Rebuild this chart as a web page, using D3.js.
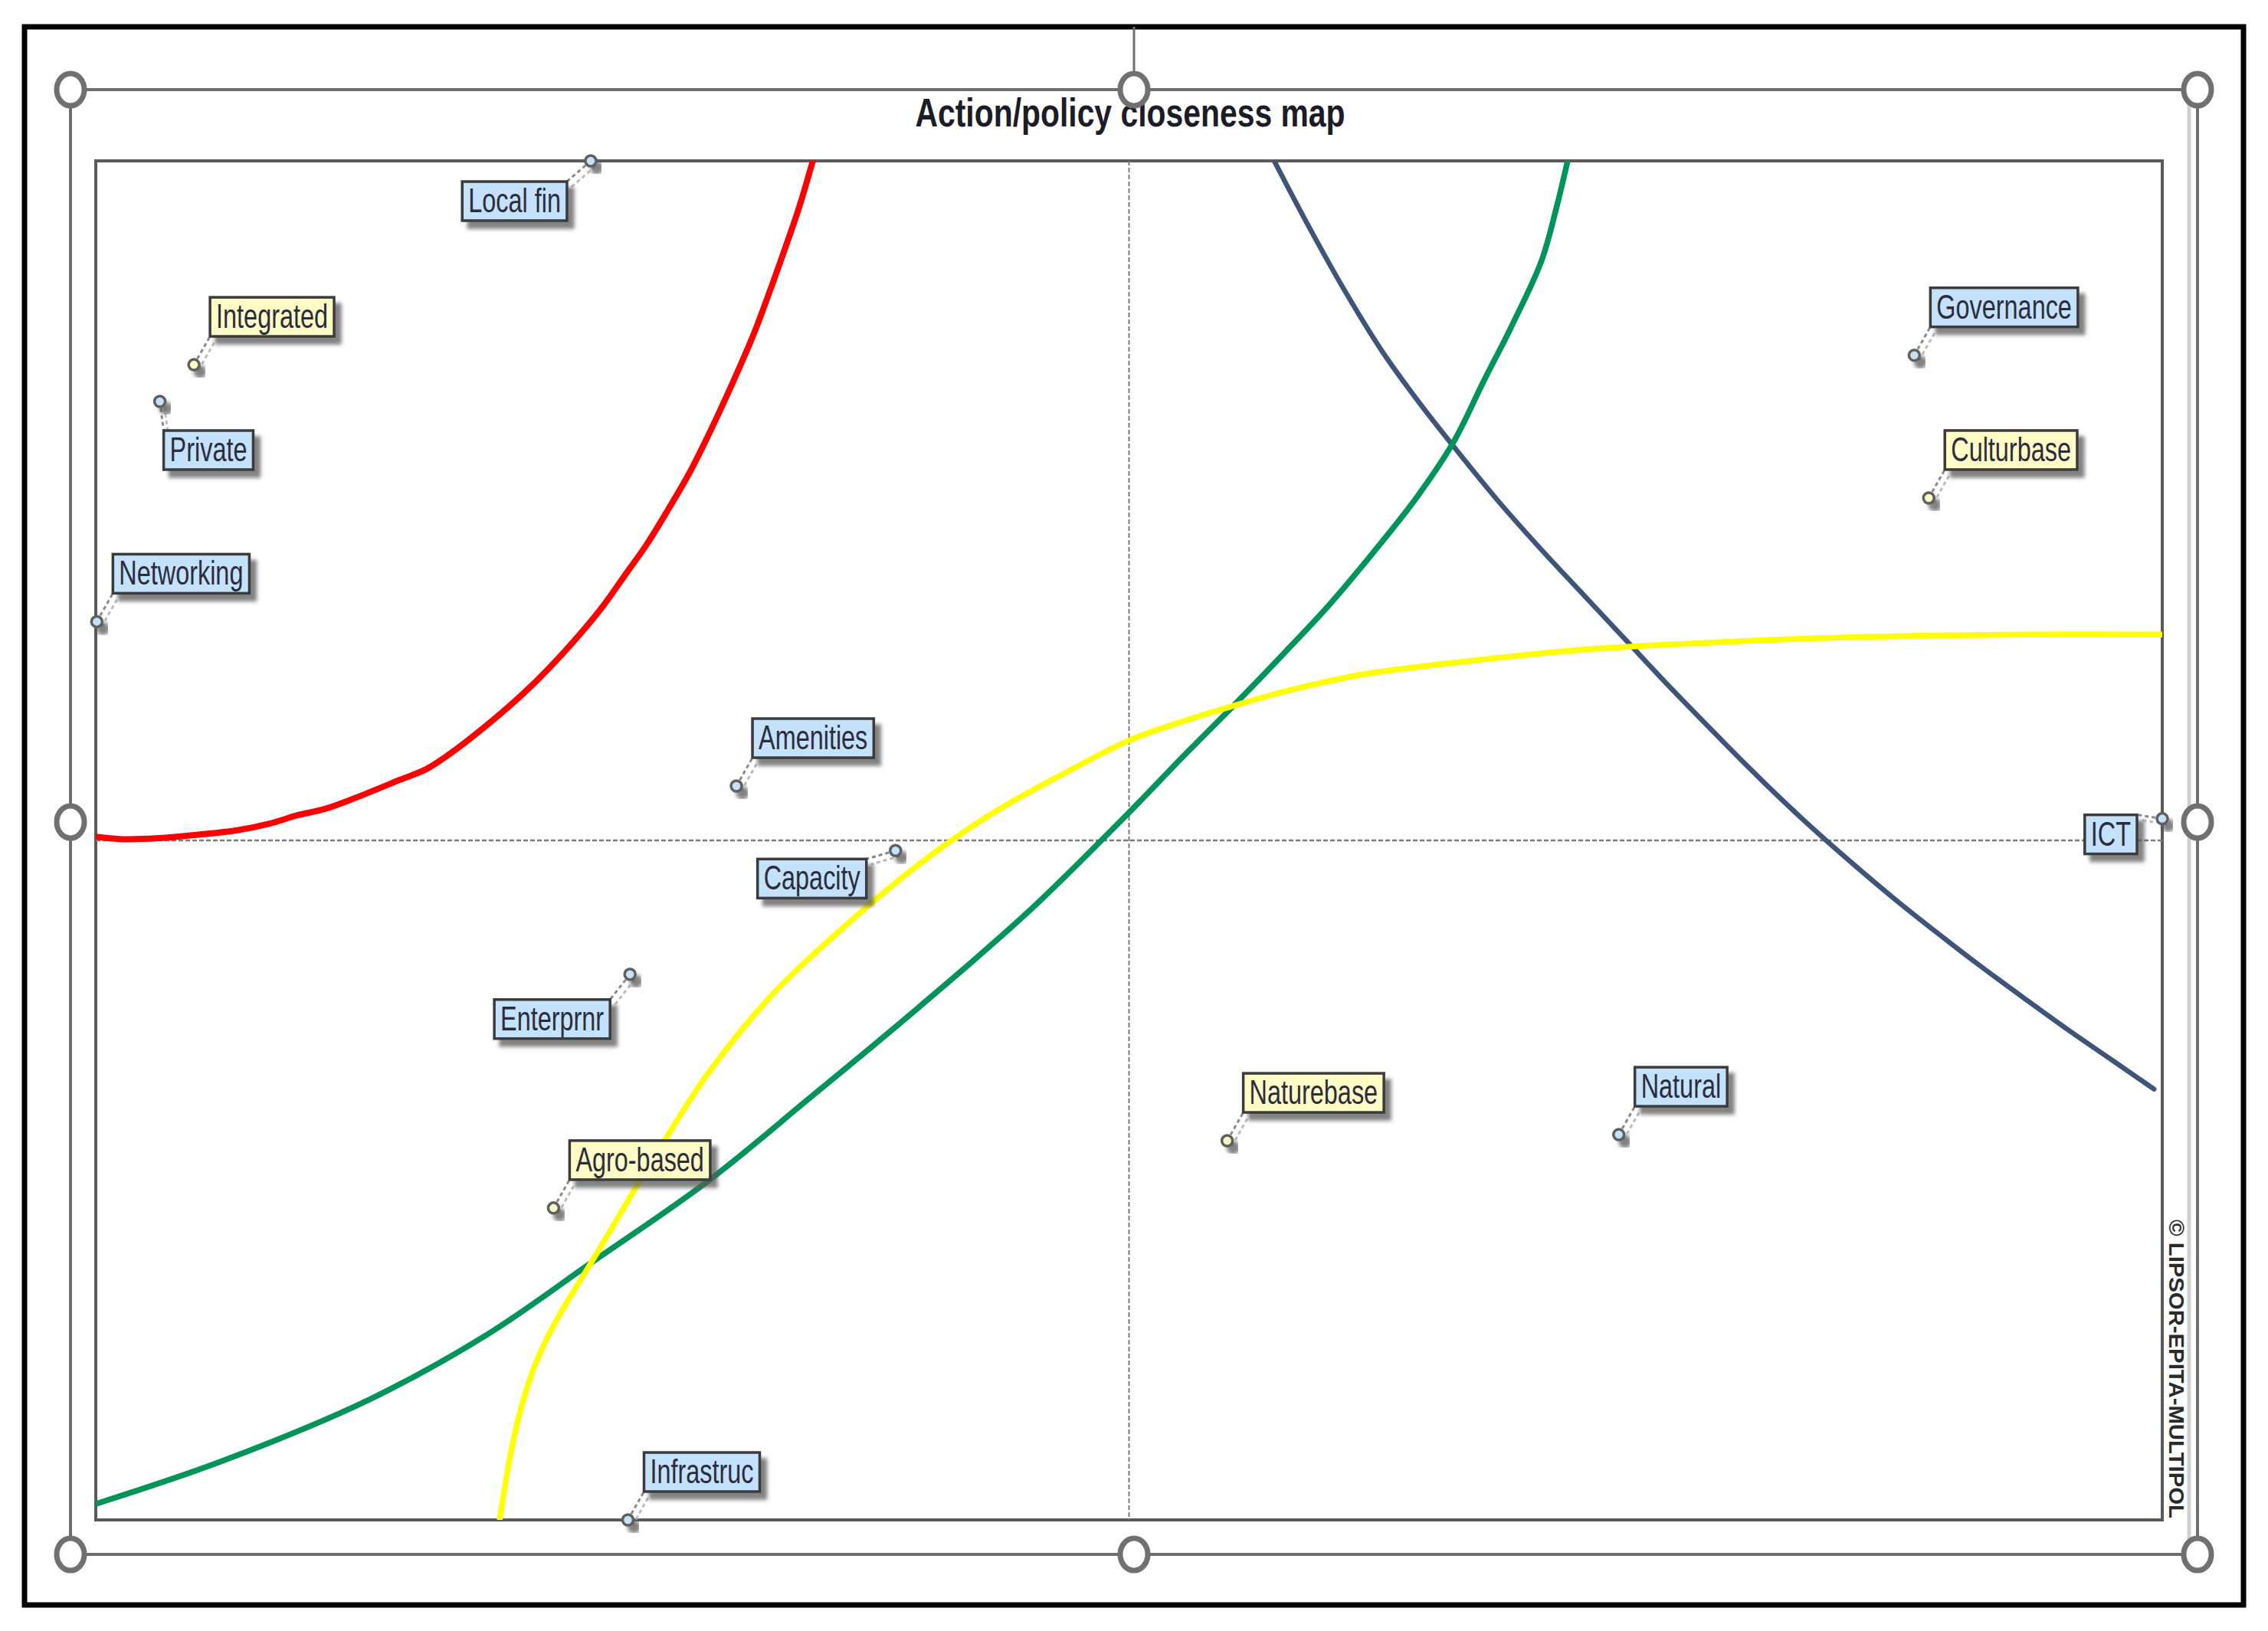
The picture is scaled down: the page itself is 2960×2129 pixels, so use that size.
<!DOCTYPE html>
<html>
<head>
<meta charset="utf-8">
<script src="https://cdnjs.cloudflare.com/ajax/libs/d3/7.8.5/d3.min.js"></script>
<style>
  body { margin: 0; background: #fff; }
  svg { display: block; }
</style>
</head>
<body>
<div id="chart"></div>
<script>
// actions (points) on the closeness map
var actions = ["Local fin", "Integrated", "Private", "Networking", "Amenities", "Capacity", "Enterprnr",
               "Agro-based", "Infrastruc", "Naturebase", "Natural", "Governance", "Culturbase", "ICT"];
var actionX = [-0.521, -0.905, -0.938, -0.999, -0.380, -0.226, -0.483, -0.557, -0.485, 0.095, 0.474, 0.760, 0.774, 1.0];
var actionY = [1.0, 0.700, 0.646, 0.322, 0.080, -0.015, -0.197, -0.541, -1.0, -0.442, -0.433, 0.714, 0.504, 0.032];
var actionKind = ["a", "b", "a", "a", "a", "a", "a", "b", "a", "b", "a", "a", "b", "a"];

// policy curves
var redX = [-0.998, -0.977, -0.941, -0.904, -0.863, -0.831, -0.805, -0.779, -0.748, -0.706, -0.680, -0.654, -0.618, -0.587,
            -0.561, -0.530, -0.509, -0.488, -0.467, -0.446, -0.425, -0.405, -0.384, -0.363, -0.347, -0.332, -0.319, -0.306];
var redY = [0.005, 0.002, 0.003, 0.008, 0.015, 0.025, 0.037, 0.046, 0.063, 0.089, 0.105, 0.131, 0.174, 0.215,
            0.254, 0.306, 0.345, 0.390, 0.435, 0.487, 0.542, 0.603, 0.672, 0.746, 0.811, 0.875, 0.933, 1.0];

var blueX = [0.1405, 0.172, 0.208, 0.244, 0.279, 0.314, 0.357, 0.399, 0.442, 0.485, 0.527, 0.570, 0.612, 0.655,
             0.698, 0.740, 0.783, 0.825, 0.868, 0.910, 0.953, 0.992];
var blueY = [1.0, 0.909, 0.811, 0.722, 0.648, 0.580, 0.500, 0.428, 0.358, 0.288, 0.220, 0.153, 0.089, 0.027,
             -0.031, -0.085, -0.137, -0.186, -0.234, -0.280, -0.325, -0.366];

var greenX = [-0.999, -0.877, -0.734, -0.621, -0.519, -0.408, -0.309, -0.203, -0.096, 0.0, 0.052, 0.101, 0.151, 0.194,
              0.236, 0.279, 0.314, 0.343, 0.371, 0.399, 0.413, 0.4245];
var greenY = [-0.976, -0.913, -0.822, -0.727, -0.620, -0.502, -0.379, -0.245, -0.103, 0.041, 0.123, 0.198, 0.277, 0.347,
              0.423, 0.506, 0.586, 0.675, 0.759, 0.852, 0.927, 1.0];

var yellowX = [-0.609, -0.600, -0.590, -0.578, -0.564, -0.548, -0.530, -0.510, -0.475, -0.450, -0.407, -0.344, -0.274,
               -0.203, -0.132, -0.061, 0.0, 0.052, 0.101, 0.158, 0.229, 0.300, 0.371, 0.442, 0.548, 0.655, 0.761, 0.868, 1.0];
var yellowY = [-1.0, -0.915, -0.845, -0.785, -0.735, -0.690, -0.645, -0.595, -0.505, -0.443, -0.342, -0.225, -0.125,
               -0.035, 0.04, 0.10, 0.147, 0.175, 0.198, 0.222, 0.245, 0.259, 0.271, 0.281, 0.290, 0.297, 0.301, 0.303, 0.303];

var title = "Action/policy closeness map";
var credit = "\u00a9 LIPSOR-EPITA-MULTIPOL";

// ---- layout ----
var W = 2960, H = 2129;
var plot = {left: 125, top: 210, right: 2822, bottom: 1984};
var font = "'Liberation Sans', Arial, sans-serif";
var squeeze = 0.72;   // narrow look of the original labels

// where each label box sits relative to its point: corner + offset
var labelPlace = {
  "Private":   {corner: "tl", dx: 5,   dy: 38},
  "Local fin": {corner: "tr", dx: -31, dy: 27},
  "Capacity":  {corner: "tr", dx: -38, dy: 11},
  "Enterprnr": {corner: "tr", dx: -26, dy: 33},
  "ICT":       {corner: "tr", dx: -33, dy: -5}
};
var defaultPlace = {corner: "bl", dx: 21, dy: -37};

var kindFill = {a: "#c4e2fb", b: "#fffcc6"};

var svg = d3.select("#chart").append("svg")
    .attr("width", W).attr("height", H);

var defs = svg.append("defs");
defs.append("filter").attr("id", "shadow")
    .attr("x", "-30%").attr("y", "-30%").attr("width", "180%").attr("height", "200%")
  .append("feDropShadow")
    .attr("dx", 8).attr("dy", 9).attr("stdDeviation", 2.5)
    .attr("flood-color", "#5a5a5a").attr("flood-opacity", 0.75);
defs.append("clipPath").attr("id", "plotClip")
  .append("rect")
    .attr("x", plot.left).attr("y", plot.top)
    .attr("width", plot.right - plot.left).attr("height", plot.bottom - plot.top);

var x = d3.scaleLinear().domain([-1, 1]).range([plot.left, plot.right]);
var y = d3.scaleLinear().domain([-1, 1]).range([plot.bottom, plot.top]);

// outer black border
svg.append("rect")
    .attr("x", 32).attr("y", 35).attr("width", 2896).attr("height", 2060)
    .attr("fill", "none").attr("stroke", "#000").attr("stroke-width", 7);

// selection frame
svg.append("rect")
    .attr("x", 92).attr("y", 117).attr("width", 2776).attr("height", 1912)
    .attr("fill", "none").attr("stroke", "#6e6e6e").attr("stroke-width", 4);
svg.append("line")
    .attr("x1", 2857).attr("x2", 2857).attr("y1", 117).attr("y2", 2029)
    .attr("stroke", "#d0d0d0").attr("stroke-width", 5);
svg.append("line")
    .attr("x1", 1480).attr("x2", 1480).attr("y1", 35).attr("y2", 96)
    .attr("stroke", "#6e6e6e").attr("stroke-width", 3);

// title
svg.append("text")
    .attr("x", 1475).attr("y", 165)
    .attr("text-anchor", "middle")
    .attr("font-family", font).attr("font-weight", "bold").attr("font-size", 52)
    .attr("fill", "#1c1c28")
    .attr("textLength", 561).attr("lengthAdjust", "spacingAndGlyphs")
    .text(title);

// plot frame
svg.append("rect")
    .attr("x", plot.left).attr("y", plot.top)
    .attr("width", plot.right - plot.left).attr("height", plot.bottom - plot.top)
    .attr("fill", "none").attr("stroke", "#5a5a5a").attr("stroke-width", 4);

// dashed centre axes
svg.append("line")
    .attr("x1", x(0)).attr("x2", x(0)).attr("y1", plot.top).attr("y2", plot.bottom)
    .attr("stroke", "#7a7a7a").attr("stroke-width", 2).attr("stroke-dasharray", "6,3");
svg.append("line")
    .attr("x1", plot.left).attr("x2", plot.right).attr("y1", y(0)).attr("y2", y(0))
    .attr("stroke", "#7a7a7a").attr("stroke-width", 2.5).attr("stroke-dasharray", "6,3");

// curves
var curves = [
  {xs: redX, ys: redY, color: "#ff0000", w: 8},
  {xs: blueX, ys: blueY, color: "#3f5479", w: 6.5},
  {xs: greenX, ys: greenY, color: "#00935a", w: 7.5},
  {xs: yellowX, ys: yellowY, color: "#ffff00", w: 7.5}
];
var line = d3.line()
    .x(function(d) { return x(d[0]); })
    .y(function(d) { return y(d[1]); })
    .curve(d3.curveCatmullRom.alpha(0.5));

svg.append("g").attr("clip-path", "url(#plotClip)")
  .selectAll("path")
  .data(curves)
  .enter().append("path")
    .attr("d", function(c) { return line(d3.zip(c.xs, c.ys)); })
    .attr("fill", "none")
    .attr("stroke", function(c) { return c.color; })
    .attr("stroke-width", function(c) { return c.w; })
    .attr("stroke-linecap", "round");

// credit text
svg.append("text")
    .attr("transform", "translate(2831,1592) rotate(90)")
    .attr("font-family", font).attr("font-weight", "bold").attr("font-size", 28)
    .attr("fill", "#2a2a2a")
    .attr("textLength", 390).attr("lengthAdjust", "spacingAndGlyphs")
    .text(credit);

// action labels
var fontSize = 45, boxH = 51, padX = 8;
var items = actions.map(function(name, i) {
  return {name: name, px: x(actionX[i]), py: y(actionY[i]), kind: actionKind[i]};
});

var lab = svg.append("g").selectAll("g.action")
  .data(items)
  .enter().append("g").attr("class", "action");

lab.each(function(d) {
  var g = d3.select(this);
  var place = labelPlace[d.name] || defaultPlace;

  // measure text first, then squeeze it
  var t = g.append("text")
      .attr("font-family", font).attr("font-size", fontSize)
      .attr("fill", "#2c2c3c")
      .text(d.name);
  var tw = t.node().getComputedTextLength() * squeeze;
  t.attr("textLength", tw).attr("lengthAdjust", "spacingAndGlyphs");
  var bw = tw + padX * 2;

  var cx = d.px + place.dx, cy = d.py + place.dy;
  var bx = place.corner[1] === "l" ? cx : cx - bw;
  var by = place.corner[0] === "t" ? cy : cy - boxH;

  // leader: shadow + dashes
  g.insert("line", "text")
      .attr("x1", d.px + 6).attr("y1", d.py + 7).attr("x2", cx + 6).attr("y2", cy + 7)
      .attr("stroke", "#bdbdbd").attr("stroke-width", 3).attr("stroke-dasharray", "5,4");
  g.insert("line", "text")
      .attr("x1", d.px).attr("y1", d.py).attr("x2", cx).attr("y2", cy)
      .attr("stroke", "#8a8a8a").attr("stroke-width", 3).attr("stroke-dasharray", "5,4");

  g.insert("circle", "text")
      .attr("cx", d.px).attr("cy", d.py).attr("r", 7)
      .attr("fill", kindFill[d.kind]).attr("stroke", "#5e5e5e").attr("stroke-width", 3.5)
      .attr("filter", "url(#shadow)");

  g.insert("rect", "text")
      .attr("x", bx).attr("y", by).attr("width", bw).attr("height", boxH)
      .attr("fill", kindFill[d.kind]).attr("stroke", "#3a3a3a").attr("stroke-width", 3.5)
      .attr("filter", "url(#shadow)");

  t.attr("x", bx + padX).attr("y", by + 40);
});

// frame handles
var hx = [92, 1480, 2868], hy = [117, 1073, 2029];
var handles = [];
hx.forEach(function(a) { hy.forEach(function(b) {
  if (!(a === 1480 && b === 1073)) handles.push([a, b]);
}); });
svg.append("g").selectAll("ellipse")
  .data(handles)
  .enter().append("ellipse")
    .attr("cx", function(d) { return d[0]; })
    .attr("cy", function(d) { return d[1]; })
    .attr("rx", 18).attr("ry", 21)
    .attr("fill", "#fff").attr("stroke", "#707070").attr("stroke-width", 7);
</script>
</body>
</html>
